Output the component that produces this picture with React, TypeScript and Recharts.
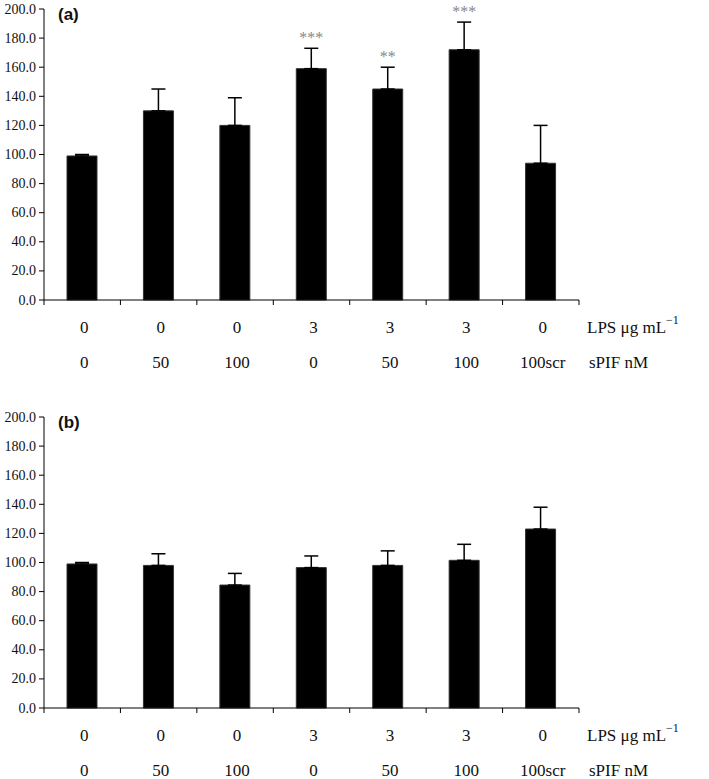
import React from 'react';
import { BarChart, Bar, XAxis, YAxis, ErrorBar, LabelList } from 'recharts';

const lps = ['0', '0', '0', '3', '3', '3', '0'];
const spif = ['0', '50', '100', '0', '50', '100', '100scr'];

const valuesA = [99, 130, 120, 159, 145, 172, 94];
const errorsA = [1, 15, 19, 14, 15, 19, 26];
const starsA = ['', '', '', '***', '**', '***', ''];

const valuesB = [99, 98, 84.5, 96.5, 98, 101.5, 123];
const errorsB = [1, 8, 8, 8, 10, 11, 15];

const yTicks = [0, 20, 40, 60, 80, 100, 120, 140, 160, 180, 200];

const W = 709;
const LEFT = 44;
const RIGHT = 130;
const BAND = (W - LEFT - RIGHT) / lps.length;
const SERIF = 'Liberation Serif';

const buildRows = (values: number[], errors: number[], stars: string[]) =>
  values.map((v, i) => ({
    name: String(i),
    value: v,
    err: [0, errors[i]],
    errHi: errors[i],
    stars: stars[i],
  }));

const dataA = buildRows(valuesA, errorsA, starsA);
const dataB = buildRows(valuesB, errorsB, ['', '', '', '', '', '', '']);

const CategoryTick = (props: any) => {
  const { x, y, index } = props;
  const half = BAND / 2;
  const last = index === lps.length - 1;
  return (
    <g fontFamily={SERIF} fontSize={17} fill="#111">
      <line x1={x - half} x2={x - half} y1={y} y2={y + 5} stroke="#000" />
      {last && <line x1={x + half} x2={x + half} y1={y} y2={y + 5} stroke="#000" />}
      <text x={x + 2} y={y + 27} textAnchor="middle" dominantBaseline="central" fontFamily={SERIF}>
        {lps[index]}
      </text>
      <text x={x + 2} y={y + 62} textAnchor="middle" dominantBaseline="central" fontFamily={SERIF}>
        {spif[index]}
      </text>
      {last && (
        <>
          <text x={x + half + 8} y={y + 27} dominantBaseline="central" fontFamily={SERIF}>
            LPS μg mL
            <tspan fontSize={12} dy={-7}>−1</tspan>
          </text>
          <text x={x + half + 10} y={y + 62} dominantBaseline="central" fontFamily={SERIF}>
            sPIF nM
          </text>
        </>
      )}
    </g>
  );
};

const ValueTick = (props: any) => {
  const { x, y, payload } = props;
  return (
    <text x={x} y={y} textAnchor="end" dominantBaseline="central" fontSize={14} fontFamily={SERIF} fill="#111">
      {Number(payload.value).toFixed(1)}
    </text>
  );
};

const StarsLabel = (props: any) => {
  const { x, y, width, height, value, index, rows } = props;
  const row = rows[index];
  if (!row || !row.stars) return null;
  const perUnit = height / value;
  const capY = y - row.errHi * perUnit;
  return (
    <text x={x + width / 2} y={capY - 5} textAnchor="middle" fontSize={16} fontFamily={SERIF} fill="#888">
      {row.stars}
    </text>
  );
};

const Panel = ({ data, tag }: { data: any[]; tag: string }) => (
  <div style={{ position: 'relative', width: W, height: 380, fontFamily: SERIF }}>
    <BarChart width={W} height={380} data={data} margin={{ top: 9, right: RIGHT, left: 0, bottom: 0 }} barCategoryGap={0}>
      <XAxis
        dataKey="name"
        axisLine={{ stroke: '#000' }}
        tickLine={false}
        tickSize={0}
        tickMargin={0}
        height={80}
        interval={0}
        tick={<CategoryTick />}
      />
      <YAxis
        width={LEFT}
        domain={[0, 200]}
        ticks={yTicks}
        interval={0}
        axisLine={{ stroke: '#000' }}
        tickLine={{ stroke: '#000' }}
        tickSize={5}
        tickMargin={3}
        tick={<ValueTick />}
      />
      <Bar dataKey="value" fill="#000" stroke="#333" barSize={30} isAnimationActive={false}>
        <ErrorBar dataKey="err" direction="y" width={7} stroke="#000" strokeWidth={1.5} />
        <LabelList dataKey="value" content={(p: any) => <StarsLabel {...p} rows={data} />} />
      </Bar>
    </BarChart>
    <div
      style={{
        position: 'absolute',
        left: 58,
        top: 5,
        fontFamily: 'Liberation Sans',
        fontWeight: 'bold',
        fontSize: 17,
        color: '#111',
      }}
    >
      {tag}
    </div>
  </div>
);

export default function App() {
  return (
    <div style={{ position: 'absolute', left: 0, top: 0, width: W, height: 779, background: '#fff' }}>
      <Panel data={dataA} tag="(a)" />
      <div style={{ height: 28 }} />
      <Panel data={dataB} tag="(b)" />
    </div>
  );
}
